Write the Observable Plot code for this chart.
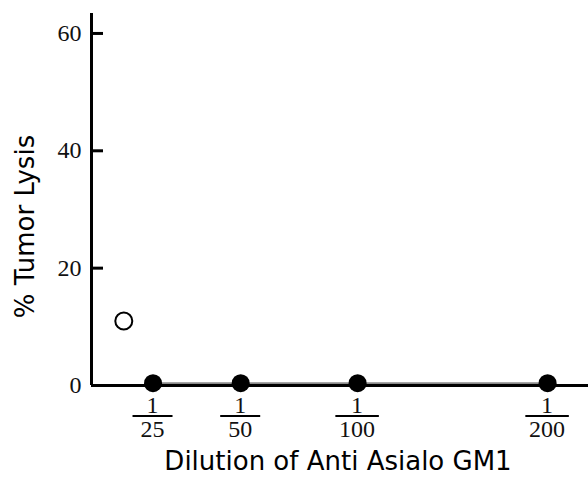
<!DOCTYPE html>
<html><head><meta charset="utf-8">
<script src="https://cdn.jsdelivr.net/npm/d3@7"></script>
<script src="https://cdn.jsdelivr.net/npm/@observablehq/plot@0.6"></script>
<style>body{margin:0;background:#fff}</style>
</head><body><div id="chart"></div>
<script>
// Data
const categories = ["Control", "1/25", "1/50", "1/100", "1/200"];
const positions = [1, 2, 5, 9, 15.5];          // relative placement along the dilution axis
const denominators = [null, 25, 50, 100, 200];
const lysis = [11, 0.4, 0.4, 0.4, 0.4];         // % tumor lysis
const yTicks = [0, 20, 40, 60];

const rows = categories.map((c, i) => ({cat: c, x: positions[i], y: lysis[i], den: denominators[i]}));
const control = rows.filter(d => d.den === null);
const diluted = rows.filter(d => d.den !== null);

const W = 588, H = 477, mL = 91, mR = 0, mT = 13, mB = 92;
const xDomain = [-0.105, 16.9];
const yDomain = [0, 63.4];
const serif = "'Liberation Serif', 'DejaVu Serif', serif";
const sans = "'DejaVu Sans', sans-serif";

function fractions(index, scales, values, dims) {
  const g = d3.create("svg:g")
    .attr("font-family", serif)
    .attr("font-size", 24)
    .attr("fill", "#111")
    .attr("text-anchor", "middle");
  const y0 = scales.y(0);
  for (const d of diluted) {
    const cx = scales.x(d.x);
    const w = Math.max(40, String(d.den).length * 11.5 + 9);
    g.append("text").attr("x", cx).attr("y", y0 + 28).text("1");
    g.append("line").attr("x1", cx - w / 2).attr("x2", cx + w / 2)
      .attr("y1", y0 + 31).attr("y2", y0 + 31)
      .attr("stroke", "#000").attr("stroke-width", 2.2);
    g.append("text").attr("x", cx).attr("y", y0 + 52).text(d.den);
  }
  return g.node();
}

const chart = Plot.plot({
  width: W, height: H,
  marginLeft: mL, marginRight: mR, marginTop: mT, marginBottom: mB,
  style: {background: "#fff", overflow: "visible"},
  x: {domain: xDomain, axis: null},
  y: {domain: yDomain, axis: null},
  marks: [
    Plot.axisY(yTicks, {tickSize: 0, tickPadding: 10, fontSize: 24, fontFamily: serif, fill: "#111", label: null}),
    Plot.tickY(yTicks, {y: d => d, stroke: "#000", strokeWidth: 3, insetRight: (W - mL - mR) - 12}),
    Plot.line(diluted, {x: "x", y: "y", stroke: "#8a8a8a", strokeWidth: 2}),
    Plot.ruleX([xDomain[0]], {stroke: "#000", strokeWidth: 3}),
    Plot.ruleY([0], {stroke: "#000", strokeWidth: 3}),
    Plot.dot(diluted, {x: "x", y: "y", r: 9, fill: "#000", stroke: "none"}),
    Plot.dot(control, {x: "x", y: "y", r: 8.5, fill: "#fff", stroke: "#000", strokeWidth: 2}),
    fractions,
    Plot.text(["% Tumor Lysis"], {frameAnchor: "left", rotate: -90, dx: -58, dy: 27, lineAnchor: "bottom", textAnchor: "middle", fontSize: 26, fontFamily: sans, fill: "#000"}),
    Plot.text(["Dilution of Anti Asialo GM1"], {frameAnchor: "bottom", dx: -2, dy: 84, lineAnchor: "bottom", textAnchor: "middle", fontSize: 26, fontFamily: sans, fill: "#000"})
  ]
});
document.getElementById("chart").appendChild(chart);
</script>
</body></html>
